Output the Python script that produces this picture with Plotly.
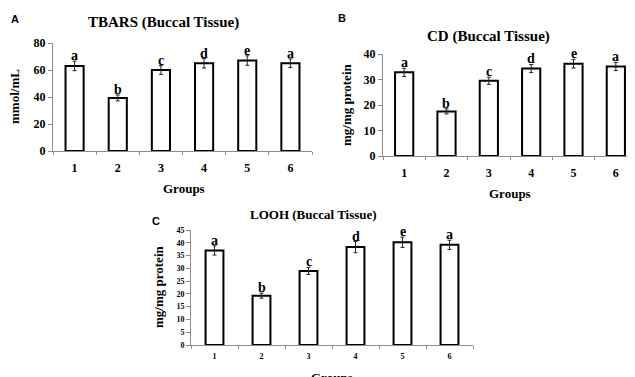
import plotly.graph_objects as go

groups = ["1", "2", "3", "4", "5", "6"]
tbars = [63, 39.3, 60, 65, 67, 65]
tbars_err = [3.5, 2.2, 3.2, 3.5, 3.5, 3.2]
tbars_sig = ["a", "b", "c", "d", "e", "a"]
cd = [32.8, 17.5, 29.5, 34.3, 36.2, 35.1]
cd_err = [1.6, 1.0, 1.4, 1.6, 1.7, 1.6]
cd_sig = ["a", "b", "c", "d", "e", "a"]
looh = [37.0, 19.3, 29.0, 38.3, 40.2, 39.2]
looh_err = [1.8, 1.0, 1.4, 2.2, 2.0, 1.8]
looh_sig = ["a", "b", "c", "d", "e", "a"]

W, H = 635, 377
OFF = 8  # the page body margin shifts the figure by 8px
def px(x): return (x - OFF) / W
def py(y): return 1 - (y - OFF) / H

SERIF = "Liberation Serif"
SANS = "Liberation Sans"
AX = "#8c8c8c"

fig = go.Figure()

panels = [
    dict(vals=tbars, err=tbars_err, sig=tbars_sig, xa="x", ya="y", width=0.42,
         xdom=[px(53), px(312)], ydom=[py(151), py(43)], yr=[0, 80], dt=20,
         tfs=12, xstand=6),
    dict(vals=cd, err=cd_err, sig=cd_sig, xa="x2", ya="y2", width=0.43,
         xdom=[px(383), px(637)], ydom=[py(156), py(54)], yr=[0, 40], dt=10,
         tfs=12, xstand=6),
    dict(vals=looh, err=looh_err, sig=looh_sig, xa="x3", ya="y3", width=0.38,
         xdom=[px(191), px(473)], ydom=[py(345), py(230)], yr=[0, 45], dt=5,
         tfs=8, xstand=3),
]

annotations = []
for i, p in enumerate(panels):
    fig.add_trace(go.Bar(
        x=groups, y=p["vals"], xaxis=p["xa"], yaxis=p["ya"], width=p["width"],
        marker=dict(color="white", line=dict(color="black", width=2)),
        error_y=dict(type="data", array=p["err"], color="#222222", thickness=1, width=2),
        showlegend=False, hoverinfo="skip",
    ))
    for k, (v, e, s) in enumerate(zip(p["vals"], p["err"], p["sig"])):
        annotations.append(dict(
            x=k, y=v + e, xref=p["xa"], yref=p["ya"], text=s, showarrow=False,
            yanchor="bottom", yshift=-4,
            font=dict(family=SERIF, size=14, color="black", weight="bold"),
        ))
    sfx = "" if i == 0 else str(i + 1)
    fig.layout["xaxis" + sfx] = dict(
        domain=p["xdom"], anchor=p["ya"], type="category", range=[-0.5, 5.5],
        showline=True, linecolor=AX, linewidth=1, ticks="outside", tickson="boundaries",
        ticklen=3, tickcolor=AX, showgrid=False, zeroline=False, fixedrange=True,
        automargin=False,
        tickfont=dict(family=SERIF, size=p["tfs"], color="black", weight="bold"),
        ticklabelstandoff=p["xstand"],
    )
    fig.layout["yaxis" + sfx] = dict(
        domain=p["ydom"], anchor=p["xa"], range=p["yr"], dtick=p["dt"],
        showline=True, linecolor=AX, linewidth=1, ticks="outside", ticklen=4,
        tickcolor=AX, showgrid=False, zeroline=False, fixedrange=True,
        automargin=False,
        tickfont=dict(family=SERIF, size=p["tfs"], color="black", weight="bold"),
    )

def txt(x, y, s, size, family=SERIF, angle=0):
    annotations.append(dict(
        x=px(x), y=py(y), xref="paper", yref="paper", text=s, showarrow=False,
        xanchor="center", yanchor="middle", textangle=angle,
        font=dict(family=family, size=size, color="black", weight="bold"),
    ))

# panel letters
txt(15, 19, "A", 11, SANS)
txt(342, 18, "B", 11, SANS)
txt(156, 221, "C", 11, SANS)
# titles
txt(163, 22, "TBARS (Buccal Tissue)", 15)
txt(488, 37, "CD (Buccal Tissue)", 15)
txt(313, 214, "LOOH (Buccal Tissue)", 13)
# y titles
txt(15, 97, "mmol/mL", 13, angle=-90)
txt(346, 105, "mg/mg protein", 13, angle=-90)
txt(158, 287, "mg/mg protein", 13, angle=-90)
# x titles
txt(184, 188, "Groups", 13)
txt(510, 193, "Groups", 13)
txt(332, 377, "Groups", 13)

fig.update_layout(
    width=W, height=H,
    margin=dict(l=0, r=0, t=0, b=0, autoexpand=False),
    paper_bgcolor="white", plot_bgcolor="white",
    annotations=annotations,
)
fig.write_html("out.html", config={"displayModeBar": False})
